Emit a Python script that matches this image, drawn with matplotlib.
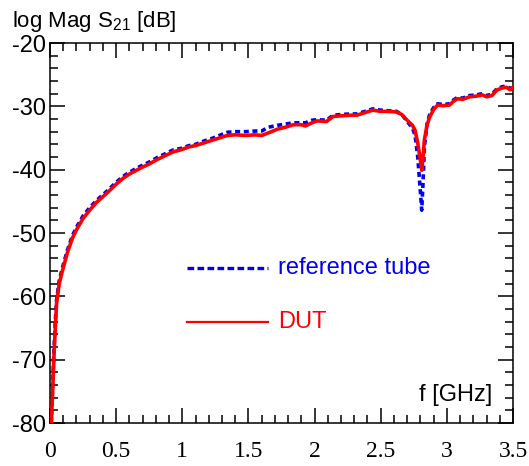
"""S21 magnitude: reference tube vs DUT."""

import matplotlib.pyplot as plt
from matplotlib.font_manager import FontProperties
from matplotlib.ticker import MultipleLocator

# frequency grid [GHz]
freq = [0.01, 0.02, 0.03, 0.04, 0.05, 0.07, 0.09, 0.13, 0.17, 0.20,
        0.25, 0.30, 0.35, 0.43, 0.50, 0.55, 0.60, 0.68, 0.75, 0.81,
        0.87, 0.93, 1.00, 1.05, 1.10, 1.16, 1.22, 1.28, 1.34, 1.40,
        1.48, 1.55, 1.60, 1.65, 1.72, 1.78, 1.84, 1.90, 1.93, 1.98,
        2.02, 2.09, 2.14, 2.20, 2.27, 2.32, 2.38, 2.44, 2.50, 2.56,
        2.62, 2.66, 2.70, 2.74, 2.76, 2.78, 2.80, 2.81, 2.82, 2.83,
        2.85, 2.87, 2.90, 2.93, 2.97, 3.02, 3.05, 3.08, 3.12, 3.17,
        3.22, 3.27, 3.30, 3.34, 3.38, 3.42, 3.45, 3.48, 3.50]

dut_db = [-80.0, -75.0, -69.5, -65.0, -61.0, -58.0, -56.3, -53.2, -50.8, -49.5,
          -47.7, -46.4, -45.2, -43.7, -42.3, -41.4, -40.7, -39.8, -39.1, -38.4,
          -37.8, -37.2, -36.8, -36.4, -36.2, -35.8, -35.4, -35.0, -34.6, -34.5,
          -34.6, -34.5, -34.6, -34.2, -33.6, -33.3, -32.9, -32.9, -33.1, -32.6,
          -32.3, -32.4, -31.6, -31.5, -31.4, -31.4, -31.0, -30.6, -30.8, -30.8,
          -30.9, -31.3, -32.2, -33.0, -33.8, -35.8, -38.5, -40.1, -38.0, -35.3,
          -33.0, -31.7, -30.5, -29.8, -29.9, -29.8, -29.2, -28.8, -28.9, -28.5,
          -28.4, -28.2, -28.5, -28.3, -27.4, -27.1, -27.0, -27.4, -27.0]

ref_db = [-80.0, -74.0, -68.5, -64.0, -60.5, -57.5, -55.8, -52.8, -50.4, -49.1,
          -47.3, -46.0, -44.9, -43.4, -42.0, -41.1, -40.4, -39.5, -38.8, -38.1,
          -37.5, -36.9, -36.6, -36.2, -36.0, -35.5, -35.1, -34.6, -34.1, -34.0,
          -34.0, -33.9, -33.9, -33.3, -33.0, -32.8, -32.6, -32.6, -32.6, -32.2,
          -32.1, -32.2, -31.4, -31.3, -31.2, -31.2, -30.8, -30.4, -30.6, -30.7,
          -30.8, -31.3, -32.4, -33.4, -34.6, -38.0, -43.5, -46.4, -42.0, -36.5,
          -32.8, -31.3, -30.2, -29.6, -29.7, -29.6, -29.0, -28.6, -28.7, -28.3,
          -28.2, -28.0, -28.3, -28.1, -27.2, -26.9, -26.8, -27.2, -26.9]

x_ticks = [0, 0.5, 1, 1.5, 2, 2.5, 3, 3.5]
x_ticklabels = ["0", "0.5", "1", "1.5", "2", "2.5", "3", "3.5"]
labels = ["reference tube", "DUT"]
BLUE = "#0000ee"
RED = "#ff0000"

plt.rcParams["font.family"] = ["Liberation Sans", "DejaVu Sans"]
plt.rcParams["font.serif"] = ["Liberation Serif", "DejaVu Serif"]
plt.rcParams["mathtext.fontset"] = "custom"
plt.rcParams["mathtext.rm"] = "Liberation Sans"
plt.rcParams["mathtext.it"] = "Liberation Sans:italic"

fig = plt.figure(figsize=(5.29, 4.66), dpi=100)
ax = fig.add_axes([50 / 529, 43 / 466, 463 / 529, 380 / 466])

ax.plot(freq, ref_db, color=BLUE, linewidth=2.6, dashes=(1.4, 1.0), zorder=2)
ax.plot(freq, dut_db, color=RED, linewidth=2.6, zorder=3)

ax.set_xlim(0, 3.5)
ax.set_ylim(-80, -20)
ax.xaxis.set_minor_locator(MultipleLocator(0.1))
ax.yaxis.set_major_locator(MultipleLocator(10))
ax.yaxis.set_minor_locator(MultipleLocator(2))
ax.yaxis.set_major_formatter(plt.FuncFormatter(lambda v, p: f"{v:g}"))

ax.tick_params(which="both", direction="in", top=True, right=True, width=1.1)
ax.tick_params(which="major", length=11)
ax.tick_params(which="minor", length=5.8)
ax.tick_params(axis="y", labelsize=17, pad=3)
ax.tick_params(axis="x", pad=13)
for sp in ax.spines.values():
    sp.set_linewidth(1.1)

# x labels are in a serif face in the original
serif = FontProperties(family="serif", size=17)
ax.set_xticks(x_ticks)
ax.set_xticklabels(x_ticklabels, fontproperties=serif)

# legend drawn by hand, as in the original
ax.plot([137 / 463, 218 / 463], [0.408, 0.408], transform=ax.transAxes,
        color=BLUE, linewidth=2.4, dashes=(2.0, 1.0))
ax.text(228 / 463, 0.408, labels[0], transform=ax.transAxes, color=BLUE,
        fontsize=17, va="center", ha="left")
ax.plot([137 / 463, 218 / 463], [0.266, 0.266], transform=ax.transAxes,
        color=RED, linewidth=1.6)
ax.text(228 / 463, 0.266, labels[1], transform=ax.transAxes, color=RED,
        fontsize=17, va="center", ha="left")

ax.text(0.955, 0.074, "f [GHz]", transform=ax.transAxes, fontsize=17,
        ha="right", va="center")
fig.text(12 / 529, 1 - 27 / 466, "log Mag S$_{21}$ [dB]", fontsize=16,
         ha="left", va="baseline")

fig.savefig("out.png", dpi=100)
